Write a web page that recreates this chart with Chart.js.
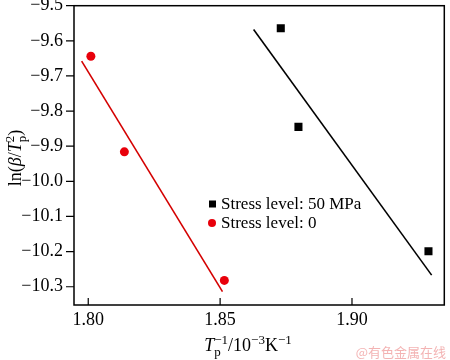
<!DOCTYPE html>
<html><head><meta charset="utf-8">
<script src="https://cdn.jsdelivr.net/npm/chart.js@4.4.1/dist/chart.umd.min.js"></script>
<style>html,body{margin:0;padding:0;background:#fff}#wrap{width:450px;height:360px}</style>
</head><body><div id="wrap"><canvas id="c" width="450" height="360"></canvas></div>
<script>
// data
const stress50X = [1.873, 1.8797, 1.929];
const stress50Y = [-9.564, -9.845, -10.199];
const stress0X = [1.801, 1.8137, 1.8516];
const stress0Y = [-9.644, -9.916, -10.282];
const fit50X = [1.8627, 1.9302];
const fit50Y = [-9.568, -10.267];
const fit0X = [1.7975, 1.8509];
const fit0Y = [-9.658, -10.314];
const xTicks = [1.80, 1.85, 1.90];
const yTicks = [-9.5, -9.6, -9.7, -9.8, -9.9, -10.0, -10.1, -10.2, -10.3];
const legendLabels = ['Stress level: 50 MPa', 'Stress level: 0'];

const pts = (xs, ys) => xs.map((x, i) => ({x, y: ys[i]}));
const SERIF = '"Liberation Serif","Times New Roman",serif';

function drawRich(ctx, parts, x, y, align) {
  const widths = parts.map(p => {
    ctx.font = (p[1] === 'i' ? 'italic ' : '') + p[3] + 'px ' + SERIF;
    const w = ctx.measureText(p[0]).width;
    return p[4] === false ? 0 : w;
  });
  const total = widths.reduce((a, b) => a + b, 0);
  let cx = align === 'center' ? x - total / 2 : x;
  parts.forEach((p, i) => {
    ctx.font = (p[1] === 'i' ? 'italic ' : '') + p[3] + 'px ' + SERIF;
    let dy = p[2] === 'sub' ? 5 : p[2] === 'sup' ? -7 : 0;
    ctx.fillText(p[0], cx, y + dy);
    cx += widths[i];
  });
}

const axesPlugin = {
  id: 'axesPlugin',
  afterDraw(chart) {
    const ctx = chart.ctx, a = chart.chartArea;
    const xs = chart.scales.x, ys = chart.scales.y;
    ctx.save();
    ctx.strokeStyle = '#000';
    ctx.lineWidth = 1.5;
    ctx.strokeRect(a.left, a.top, a.right - a.left, a.bottom - a.top);
    ctx.lineWidth = 1.2;
    ctx.beginPath();
    xTicks.forEach(v => {
      const px = xs.getPixelForValue(v);
      ctx.moveTo(px, a.bottom); ctx.lineTo(px, a.bottom - 7);
    });
    yTicks.forEach(v => {
      const py = ys.getPixelForValue(v);
      ctx.moveTo(a.left, py); ctx.lineTo(a.left - 8, py);
    });
    ctx.stroke();
    ctx.fillStyle = '#000';
    ctx.font = '18px ' + SERIF;
    ctx.textAlign = 'right'; ctx.textBaseline = 'middle';
    yTicks.forEach(v => {
      const py = ys.getPixelForValue(v);
      ctx.fillText(v.toFixed(1).replace('-', '\u2212'), a.left - 11, py);
    });
    ctx.textAlign = 'center'; ctx.textBaseline = 'alphabetic';
    xTicks.forEach(v => {
      const px = xs.getPixelForValue(v);
      ctx.fillText(v.toFixed(2), px, 325);
    });
    // x title
    ctx.textAlign = 'left';
    drawRich(ctx, [
      ['T', 'i', 'b', 18], ['p', 'n', 'sub', 13, false], ['\u22121', 'n', 'sup', 13],
      ['/10', 'n', 'b', 18], ['\u22123', 'n', 'sup', 13], ['K', 'n', 'b', 18], ['\u22121', 'n', 'sup', 13]
    ], 248, 351, 'center');
    // y title
    ctx.save();
    ctx.translate(21, 158);
    ctx.rotate(-Math.PI / 2);
    drawRich(ctx, [
      ['ln(', 'n', 'b', 18], ['\u03b2', 'i', 'b', 18], ['/', 'n', 'b', 18], ['T', 'i', 'b', 18],
      ['p', 'n', 'sub', 13, false], ['2', 'n', 'sup', 13], [')', 'n', 'b', 18]
    ], 0, 0, 'center');
    ctx.restore();
    // legend
    const ds = chart.data.datasets;
    ctx.font = '17px ' + SERIF;
    ctx.textBaseline = 'middle';
    [0, 1].forEach(i => {
      const y = 204 + i * 19;
      const d = ds[i];
      ctx.fillStyle = d.backgroundColor;
      if (d.pointStyle === 'rect') ctx.fillRect(209, y - 3.5, 7, 7);
      else { ctx.beginPath(); ctx.arc(212, y, 4, 0, Math.PI * 2); ctx.fill(); }
      ctx.fillStyle = '#000';
      ctx.fillText(legendLabels[i], 221, y + 1);
    });
    // watermark
    ctx.font = '13px "Noto Sans CJK SC", sans-serif';
    ctx.fillStyle = 'rgba(240,160,160,0.8)';
    ctx.textAlign = 'right';
    ctx.fillText('@有色金属在线', 446, 352);
    ctx.restore();
  }
};

new Chart(document.getElementById('c'), {
  type: 'scatter',
  data: {
    datasets: [
      {label: legendLabels[0], data: pts(stress50X, stress50Y), pointStyle: 'rect', pointRadius: 5.7,
       backgroundColor: '#000', borderColor: '#000', borderWidth: 0},
      {label: legendLabels[1], data: pts(stress0X, stress0Y), pointStyle: 'circle', pointRadius: 4.5,
       backgroundColor: '#e8000b', borderColor: '#e8000b', borderWidth: 0},
      {label: 'fit50', data: pts(fit50X, fit50Y), showLine: true, pointRadius: 0, borderColor: '#000', borderWidth: 1.6},
      {label: 'fit0', data: pts(fit0X, fit0Y), showLine: true, pointRadius: 0, borderColor: '#d40000', borderWidth: 1.6}
    ]
  },
  options: {
    responsive: false, animation: false,
    layout: {padding: {top: 4, right: 1, left: 0, bottom: 0}},
    plugins: {legend: {display: false}, tooltip: {enabled: false}},
    scales: {
      x: {type: 'linear', min: 1.7946, max: 1.935, display: true,
          grid: {display: false}, border: {display: false}, ticks: {display: false},
          afterFit(s) { s.height = 55; }},
      y: {type: 'linear', min: -10.352, max: -9.5, display: true,
          grid: {display: false}, border: {display: false}, ticks: {display: false},
          afterFit(s) { s.width = 74; }}
    }
  },
  plugins: [axesPlugin]
});
</script>
</body></html>
